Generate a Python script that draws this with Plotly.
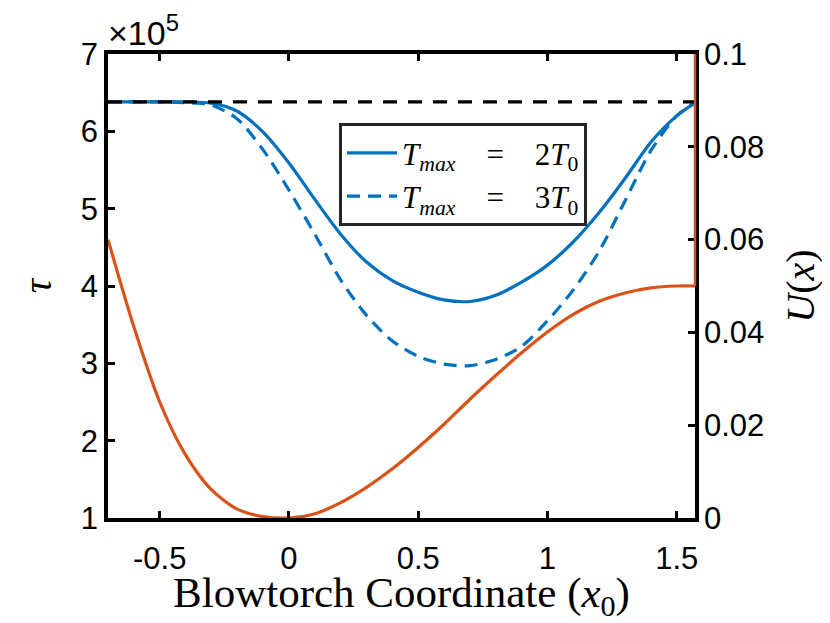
import plotly.graph_objects as go

# blowtorch coordinate samples (x0)
x0 = [-0.7, -0.6, -0.5, -0.4, -0.3, -0.2, -0.1, 0.0, 0.1, 0.2, 0.3, 0.4,
      0.5, 0.6, 0.7, 0.8, 0.9, 1.0, 1.1, 1.2, 1.3, 1.4, 1.5, 1.5708]

# tau for the two Tmax cases
tau_2T0 = [6.38e5, 6.38e5, 6.38e5, 6.38e5, 6.365e5, 6.26e5, 5.99e5, 5.59e5,
           5.12e5, 4.67e5, 4.31e5, 4.07e5, 3.92e5, 3.82e5, 3.80e5, 3.88e5,
           4.05e5, 4.27e5, 4.57e5, 4.95e5, 5.39e5, 5.86e5, 6.20e5, 6.37e5]
tau_3T0 = [6.38e5, 6.38e5, 6.38e5, 6.37e5, 6.34e5, 6.16e5, 5.76e5, 5.24e5,
           4.67e5, 4.08e5, 3.62e5, 3.29e5, 3.09e5, 2.99e5, 2.97e5, 3.05e5,
           3.22e5, 3.55e5, 3.95e5, 4.45e5, 5.10e5, 5.75e5, 6.20e5, 6.37e5]
tau_ref = 6.38e5

# potential U(x)
U = [0.0600, 0.0412, 0.0250, 0.0136, 0.0061, 0.0019, 0.0003, 0.0, 0.0009,
     0.0033, 0.0066, 0.0106, 0.0152, 0.0202, 0.0256, 0.0307, 0.0356, 0.0401,
     0.0439, 0.0467, 0.0485, 0.0496, 0.0500, 0.0500]

tau_ticks = [1e5, 2e5, 3e5, 4e5, 5e5, 6e5, 7e5]
tau_labels = ["1", "2", "3", "4", "5", "6", "7"]
u_ticks = [0, 0.02, 0.04, 0.06, 0.08, 0.1]
u_labels = ["0", "0.02", "0.04", "0.06", "0.08", "0.1"]
x_ticks = [-0.5, 0, 0.5, 1, 1.5]
x_labels = ["-0.5", "0", "0.5", "1", "1.5"]

blue = "#0072BD"
orange = "#D95319"
sans = "Liberation Sans, Arial, sans-serif"
serif = "Liberation Serif, Times New Roman, serif"
gap = "\u00a0\u00a0\u00a0\u00a0"

fig = go.Figure()
fig.add_trace(go.Scatter(x=x0, y=U, yaxis="y2", mode="lines",
                         line=dict(color=orange, width=3.2, shape="spline", smoothing=0.8),
                         showlegend=False))
fig.add_trace(go.Scatter(x=x0, y=tau_2T0, mode="lines",
                         line=dict(color=blue, width=3.2, shape="spline", smoothing=0.8),
                         name="<i>T</i><sub><i>max</i></sub>" + gap + "=" + gap + "2<i>T</i><sub>0</sub>"))
fig.add_trace(go.Scatter(x=x0, y=tau_3T0, mode="lines",
                         line=dict(color=blue, width=3.2, dash="13px,8px", shape="spline", smoothing=0.8),
                         name="<i>T</i><sub><i>max</i></sub>" + gap + "=" + gap + "3<i>T</i><sub>0</sub>"))
fig.add_trace(go.Scatter(x=[x0[0], x0[-1]], y=[tau_ref, tau_ref], mode="lines",
                         line=dict(color="black", width=3.2, dash="14px,11px"),
                         showlegend=False))

# right spine is orange above the end of U(x)
fig.add_shape(type="line", xref="x domain", yref="y2", x0=1, x1=1,
              y0=U[-1], y1=0.1, line=dict(color=orange, width=2.5))

fig.add_annotation(text="\u00d710<sup>5</sup>", xref="paper", yref="paper",
                   x=0, y=1, xanchor="left", yanchor="bottom", yshift=0, xshift=-2,
                   showarrow=False, font=dict(family=sans, size=34, color="black"))

# page body adds an 8px offset, so the figure is sized to fit inside the window
fig.update_layout(
    width=822, height=615,
    margin=dict(l=100, r=135, t=46, b=105),
    paper_bgcolor="white", plot_bgcolor="white",
    xaxis=dict(range=[-0.7, 1.5708], tickvals=x_ticks, ticktext=x_labels,
               ticks="inside", ticklen=7, tickwidth=3, tickcolor="black",
               showline=True, linewidth=3.5, linecolor="black", mirror="ticks",
               showgrid=False, zeroline=False, ticklabelstandoff=10,
               tickfont=dict(family=sans, size=31, color="black"),
               title=dict(text="Blowtorch Coordinate (<i>x</i><sub>0</sub>)",
                          font=dict(family=serif, size=43, color="black"), standoff=6)),
    yaxis=dict(range=[1e5, 7e5], tickvals=tau_ticks, ticktext=tau_labels,
               ticks="inside", ticklen=7, tickwidth=3, tickcolor="black",
               showline=True, linewidth=3.5, linecolor="black", mirror=True,
               showgrid=False, zeroline=False,
               tickfont=dict(family=sans, size=31, color="black"),
               title=dict(text="<i>\u03c4</i>", font=dict(family=serif, size=40, color="black"),
                          standoff=18)),
    yaxis2=dict(range=[0, 0.1], overlaying="y", side="right",
                tickvals=u_ticks, ticktext=u_labels,
                ticks="inside", ticklen=7, tickwidth=3, tickcolor="black",
                showline=False, showgrid=False, zeroline=False, ticklabelstandoff=8,
                tickfont=dict(family=sans, size=31, color="black"),
                title=dict(text="<i>U</i>(<i>x</i>)", font=dict(family=serif, size=40, color="black"),
                           standoff=22)),
    legend=dict(x=0.3935, y=0.851, xanchor="left", yanchor="top",
                bgcolor="white", bordercolor="#262626", borderwidth=3,
                font=dict(family=serif, size=31, color="black"),
                itemwidth=50, tracegroupgap=0),
)

fig.write_html("out.html")
